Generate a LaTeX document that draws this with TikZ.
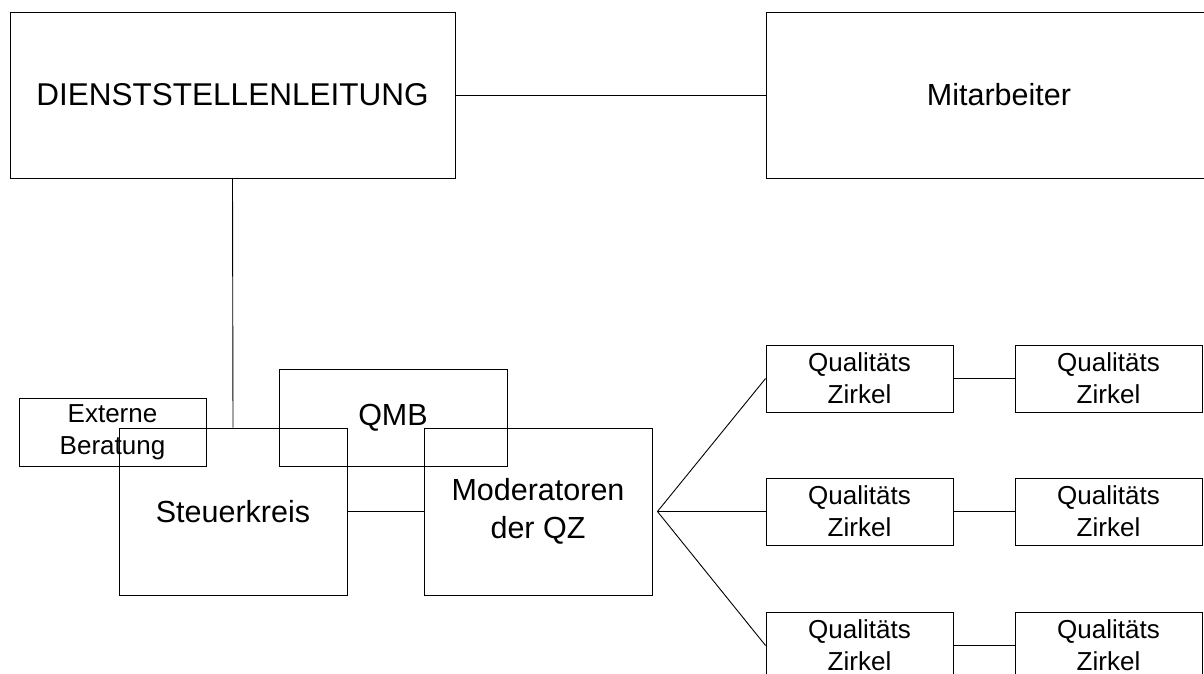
\documentclass[tikz,border=0pt]{standalone}
\usepackage{fontspec}
\setmainfont{Liberation Sans}
\begin{document}
\begin{tikzpicture}[x=1pt,y=-1pt,
  box/.style={draw=black,line width=0.9pt,inner sep=0pt,align=center,
    minimum width=#1},
  bigtxt/.style={font=\fontsize{30.5}{38}\selectfont},
  smalltxt/.style={font=\fontsize{26}{32}\selectfont},
  link/.style={draw=black,line width=0.9pt}]
\useasboundingbox (0,0) rectangle (1204,673);
\clip (0,0) rectangle (1204,673);

% top level
\node[box=445pt,minimum height=166pt,font=\fontsize{31.5}{38}\selectfont] (dsl) at (232.5,95) {DIENSTSTELLENLEITUNG};
\node[box=466pt,minimum height=166pt,bigtxt] (mit) at (999,95) {Mitarbeiter};

% steering group cluster
\node[box=187pt,minimum height=68pt,smalltxt] (ext) at (112.5,432) {Externe\\Beratung};
\node[box=228pt,minimum height=97pt,bigtxt] (qmb) at (393,417.5) {QMB};
\node[box=228pt,minimum height=167pt,bigtxt] (stk) at (233,511.5) {Steuerkreis};
\node[box=228pt,minimum height=167pt,bigtxt] (mod) at (538,511.5) {Moderatoren\\der QZ};

% quality circles
\foreach \r/\y in {1/378.5,2/511.5,3/645.5}{
  \node[box=187pt,minimum height=67pt,smalltxt] (qa\r) at (859.5,\y) {Qualitäts\\Zirkel};
  \node[box=187pt,minimum height=67pt,smalltxt] (qb\r) at (1108.5,\y) {Qualitäts\\Zirkel};
}

\coordinate (fan) at ([xshift=5pt]mod.east);

% connectors
\draw[link] (dsl.east) -- (mit.west);
\draw[link] (dsl.south) -- (stk.north);
\draw[link] (stk.east) -- (mod.west);
\foreach \r in {1,2,3}{
  \draw[link] (fan) -- (qa\r.west);
  \draw[link] (qa\r.east) -- (qb\r.west);
}
\end{tikzpicture}
\end{document}
